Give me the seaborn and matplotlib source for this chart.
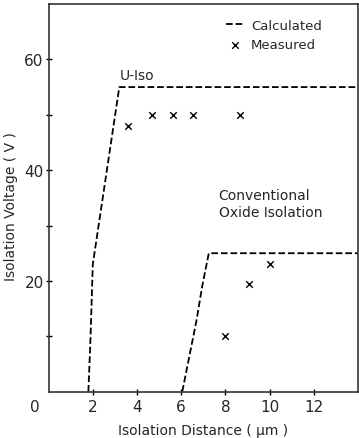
import numpy as np
import pandas as pd
import seaborn as sns
import matplotlib.pyplot as plt

# calculated curves (dashed)
uiso_calc_x = [1.8, 1.9, 2.0, 3.2, 14.0]
uiso_calc_y = [0, 10, 23, 55, 55]
conv_calc_x = [6.05, 6.4, 6.7, 6.95, 7.25, 14.0]
conv_calc_y = [0, 7, 13, 19, 25, 25]

# measured points
uiso_meas_x = [3.6, 4.7, 5.65, 6.55, 8.65]
uiso_meas_y = [48, 50, 50, 50, 50]
conv_meas_x = [8.0, 9.05, 10.0]
conv_meas_y = [10, 19.5, 23]

sns.set_style("ticks")
plt.rcParams["font.family"] = ["DejaVu Sans"]

fig = plt.figure(figsize=(3.59, 4.39), dpi=100)
ax = fig.add_axes([0.1354, 0.1055, 0.8616, 0.8831])

sns.lineplot(x=uiso_calc_x, y=uiso_calc_y, sort=False, color="black",
             linestyle="--", linewidth=1.3, ax=ax, label="Calculated")
sns.lineplot(x=conv_calc_x, y=conv_calc_y, sort=False, color="black",
             linestyle="--", linewidth=1.3, ax=ax)
meas = pd.DataFrame({"x": uiso_meas_x + conv_meas_x,
                     "y": uiso_meas_y + conv_meas_y})
sns.scatterplot(data=meas, x="x", y="y", marker="x", color="black",
                s=22, linewidth=1.0, ax=ax, label="Measured")

ax.set_xlim(0, 14)
ax.set_ylim(0, 70)
ax.set_xticks([2, 4, 6, 8, 10, 12])
ax.set_yticks([20, 40, 60])
ax.set_yticks([10, 30, 50], minor=True)
ax.tick_params(axis="both", which="both", direction="inout", length=5,
               width=1, labelsize=11, color="black")
ax.tick_params(axis="x", pad=3)
ax.tick_params(axis="y", pad=1)
for s in ax.spines.values():
    s.set_linewidth(1.2)
    s.set_color("#333333")

ax.annotate("0", xy=(-0.045, -0.02), xycoords="axes fraction",
            ha="center", va="top", fontsize=11)

ax.text(3.2, 56, "U-Iso", fontsize=10, ha="left", va="bottom")
ax.text(7.7, 34, "Conventional\nOxide Isolation", fontsize=10,
        ha="left", va="center", linespacing=1.3)

ax.set_xlabel("Isolation Distance ( μm )", fontsize=10, labelpad=6)
ax.set_ylabel("Isolation Voltage ( V )", fontsize=10)
ax.yaxis.set_label_coords(-0.098, 0.48)

leg = ax.legend(loc="upper right", frameon=False, fontsize=9.5,
                handlelength=1.4, handletextpad=0.5, borderaxespad=0.7,
                labelspacing=0.5, bbox_to_anchor=(0.93, 1.0))

fig.savefig("out.png", dpi=100)
